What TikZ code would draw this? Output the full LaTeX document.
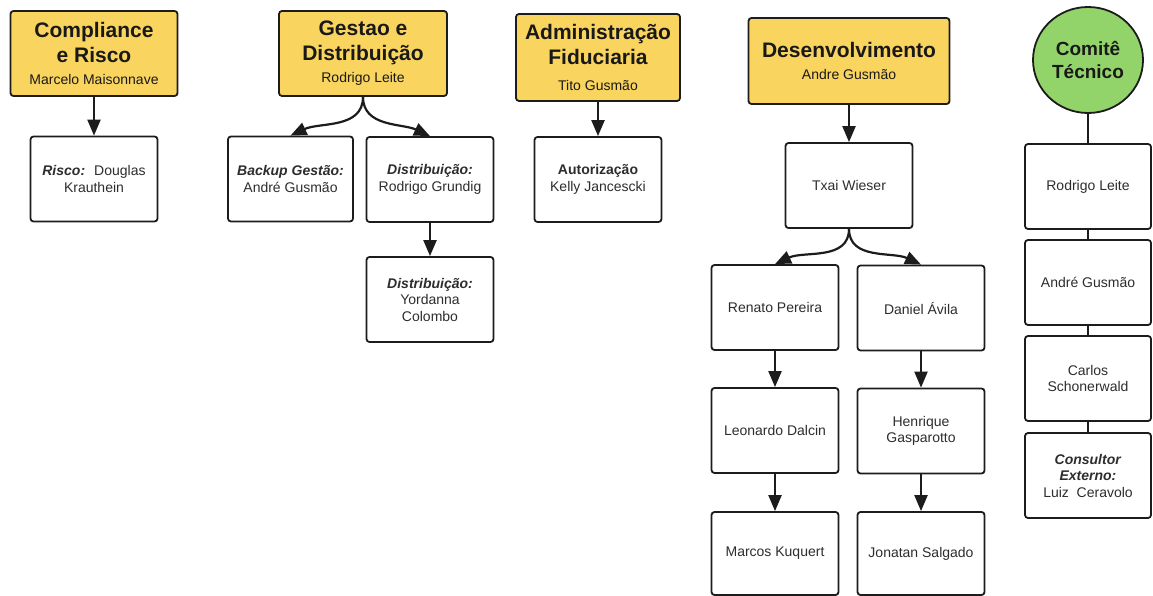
\documentclass[tikz,border=0pt]{standalone}
\usepackage{fontspec}
\setmainfont{Liberation Sans}
\usetikzlibrary{arrows.meta,shapes.geometric}

\definecolor{headyellow}{RGB}{249,212,94}
\definecolor{comgreen}{RGB}{146,212,106}
\definecolor{edgegray}{RGB}{28,28,28}
\definecolor{txtgray}{RGB}{45,45,45}
\newcommand{\headfont}{\fontsize{21}{25}\selectfont\bfseries}
\newcommand{\subfont}{\fontsize{14}{17}\selectfont\mdseries}
\newcommand{\bodyfont}{\fontsize{14}{16.5}\selectfont}

\tikzset{
  head/.style={draw=edgegray, line width=1.8pt, rounded corners=3pt, fill=headyellow,
    align=center, font=\headfont, text=black!90, inner sep=0pt},
  member/.style={draw=edgegray, line width=1.8pt, rounded corners=3pt, fill=white,
    align=center, font=\bodyfont, text=txtgray, inner sep=0pt,
    minimum width=127pt, minimum height=85pt},
  arr/.style={-{Triangle[length=16pt,width=13pt]}, line width=2.2pt, draw=edgegray},
  tie/.style={line width=2.2pt, draw=edgegray}
}

\begin{document}
\begin{tikzpicture}[x=1pt,y=-1pt]
  \useasboundingbox (0,0) rectangle (1153,596);

  \node[head, minimum width=167pt, minimum height=85pt] (comp) at (94,53.5)
    {Compliance\\e Risco\\[-3pt]{\subfont Marcelo Maisonnave}};
  \node[head, minimum width=168pt, minimum height=85pt] (gest) at (363,53.5)
    {Gestao e\\Distribuição\\[-3pt]{\subfont Rodrigo Leite}};
  \node[head, minimum width=164pt, minimum height=87pt] (adm) at (598,57.5)
    {Administração\\Fiduciaria\\[1pt]{\subfont Tito Gusmão}};
  \node[head, minimum width=201pt, minimum height=86pt] (des) at (849,61)
    {Desenvolvimento\\[-3pt]{\subfont Andre Gusmão}};
  \node[ellipse, draw=edgegray, line width=1.8pt, fill=comgreen, align=center,
    font=\fontsize{19}{23}\selectfont\bfseries, text=black!90, inner sep=0pt,
    minimum width=110pt, minimum height=106pt] (comite) at (1088,60)
    {Comitê\\Técnico};

  \node[member] (risco) at (94,179)
    {\textbf{\textit{Risco:}}~ Douglas\\Krauthein};
  \node[member, minimum width=125pt] (backup) at (290.5,179)
    {\textbf{\textit{Backup Gestão:}}\\André Gusmão};
  \node[member] (distrg) at (430,179.5)
    {\textbf{\textit{Distribuição:}}\\Rodrigo Grundig};
  \node[member] (distyc) at (430,299.5)
    {\textbf{\textit{Distribuição:}}\\Yordanna\\Colombo};
  \node[member] (aut) at (598,179.5)
    {\textbf{Autorização}\\Kelly Jancescki};

  \node[member] (txai) at (849,185.5) {Txai Wieser};
  \node[member] (renato) at (775,307.5) {Renato Pereira};
  \node[member] (daniel) at (921,308) {Daniel Ávila};
  \node[member] (leo) at (775,430.5) {Leonardo Dalcin};
  \node[member] (henr) at (921,431) {Henrique\\Gasparotto};
  \node[member, minimum height=83pt] (marcos) at (775,553.5) {Marcos Kuquert};
  \node[member, minimum height=83pt] (jon) at (921,553.5) {Jonatan Salgado};

  \node[member, minimum width=126pt] (rl) at (1088,186.5) {Rodrigo Leite};
  \node[member, minimum width=126pt] (ag) at (1088,282.5) {André Gusmão};
  \node[member, minimum width=126pt] (cs) at (1088,378.5) {Carlos\\Schonerwald};
  \node[member, minimum width=126pt] (ce) at (1088,475.5)
    {\textbf{\textit{Consultor}}\\\textbf{\textit{Externo:}}\\Luiz~ Ceravolo};

  \draw[arr] (comp) -- (risco);
  \draw[arr] (gest.south) to[out=-90,in=25] (backup.north);
  \draw[arr] (gest.south) to[out=-90,in=155] (distrg.north);
  \draw[arr] (distrg) -- (distyc);
  \draw[arr] (adm) -- (aut);
  \draw[arr] (des) -- (txai);
  \draw[arr] (txai.south) to[out=-90,in=25] (renato.north);
  \draw[arr] (txai.south) to[out=-90,in=155] (daniel.north);
  \draw[arr] (renato) -- (leo);
  \draw[arr] (leo) -- (marcos);
  \draw[arr] (daniel) -- (henr);
  \draw[arr] (henr) -- (jon);

  \draw[tie] (comite) -- (rl);
  \draw[tie] (rl) -- (ag);
  \draw[tie] (ag) -- (cs);
  \draw[tie] (cs) -- (ce);
\end{tikzpicture}
\end{document}
